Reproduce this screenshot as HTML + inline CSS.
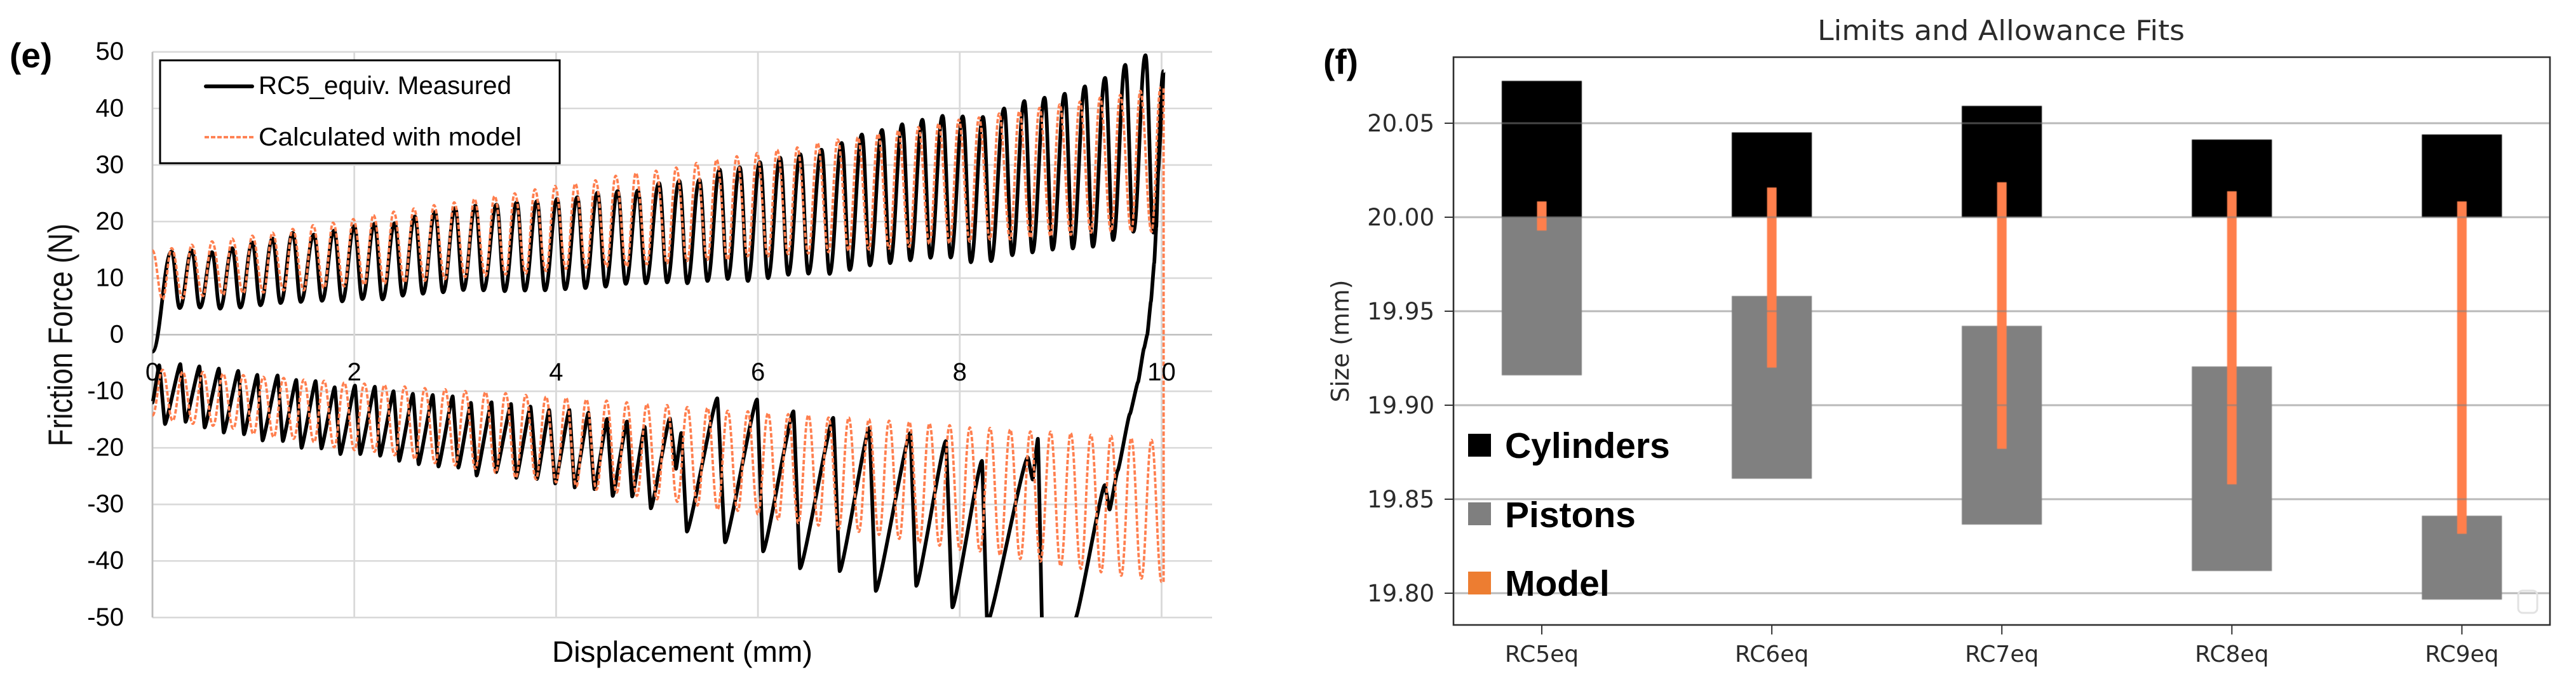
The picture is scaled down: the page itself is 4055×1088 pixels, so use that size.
<!DOCTYPE html>
<html lang="en">
<head>
<meta charset="utf-8">
<title>Friction force and limits and allowance fits</title>
<style>
html,body{margin:0;padding:0;background:#fff;}
body{width:4055px;height:1088px;overflow:hidden;}
svg{display:block;}
.sans{font-family:"Liberation Sans",sans-serif;}
.dj{font-family:"DejaVu Sans",sans-serif;fill:#2b2b2b;}
</style>
</head>
<body>
<svg id="figure" xmlns="http://www.w3.org/2000/svg" width="4055" height="1088" viewBox="0 0 4055 1088">
  <rect x="0" y="0" width="4055" height="1088" fill="#ffffff"/>
  <defs>
    <clipPath id="plot-e-clip"><rect x="238" y="78" width="1670" height="894"/></clipPath>
  </defs>

  <g id="panel-e">
    <text class="sans" x="15" y="106" font-size="55" font-weight="700" fill="#000">(e)</text>
    <g id="e-grid"></g>
    <g id="e-series" clip-path="url(#plot-e-clip)"></g>
    <g id="e-ticks"></g>
    <text class="sans" transform="translate(113.5,527.5) rotate(-90)" text-anchor="middle" font-size="54" fill="#111" textLength="351" lengthAdjust="spacingAndGlyphs">Friction Force (N)</text>
    <text class="sans" x="869" y="1042" font-size="46" fill="#000" textLength="410" lengthAdjust="spacingAndGlyphs">Displacement (mm)</text>
    <g>
      <rect x="252" y="95" width="629" height="162" fill="#fff" stroke="#000" stroke-width="3"/>
      <line x1="324" y1="136" x2="397" y2="136" stroke="#000" stroke-width="6" stroke-linecap="round"/>
      <text class="sans" x="407" y="148" font-size="40" fill="#000" textLength="398" lengthAdjust="spacingAndGlyphs">RC5_equiv. Measured</text>
      <line x1="322" y1="216" x2="399" y2="216" stroke="#ff7f4f" stroke-width="3.8" stroke-dasharray="7 3"/>
      <text class="sans" x="407" y="229" font-size="40" fill="#000" textLength="414" lengthAdjust="spacingAndGlyphs">Calculated with model</text>
    </g>
  </g>

  <g id="panel-f">
    <text class="sans" x="2083" y="116" font-size="55" font-weight="700" fill="#000">(f)</text>
    <text class="dj" x="2861" y="63" font-size="44" textLength="578" lengthAdjust="spacingAndGlyphs">Limits and Allowance Fits</text>
    <text class="dj" transform="translate(2123,537) rotate(-90)" text-anchor="middle" font-size="38" textLength="193" lengthAdjust="spacingAndGlyphs">Size (mm)</text>
    <rect x="2288" y="90" width="1726" height="894" fill="none" stroke="#2f2f2f" stroke-width="2.6"/>
    <g id="f-bars" style="filter:blur(.5px)"></g>
    <g id="f-grid"></g>
    <g id="f-ticks"></g>
    <rect x="3964" y="930" width="30" height="35" rx="7" fill="none" stroke="#e2e2e2" stroke-width="3"/>
    <g>
      <rect x="2311" y="683" width="36" height="36" fill="#000"/>
      <text class="sans" x="2369" y="721" font-size="57" font-weight="700" fill="#000">Cylinders</text>
      <rect x="2311" y="791" width="36" height="36" fill="#7f7f7f"/>
      <text class="sans" x="2369" y="830" font-size="57" font-weight="700" fill="#000">Pistons</text>
      <rect x="2311" y="900" width="36" height="36" fill="#ed7d31"/>
      <text class="sans" x="2369" y="938" font-size="57" font-weight="700" fill="#000">Model</text>
    </g>
  </g>
</svg>

<script>
// ---------- Panel (e) data: displacement (mm) and friction force (N) ----------
const forceTicks = [50, 40, 30, 20, 10, 0, -10, -20, -30, -40, -50];
const dispTicks = [0, 2, 4, 6, 8, 10];

const measuredUpperPeakX = [0.19,0.39,0.59,0.79,0.99,1.19,1.39,1.60,1.80,2.00,2.20,2.40,2.60,2.80,3.00,3.20,3.41,3.61,3.81,4.01,4.21,4.41,4.61,4.81,5.02,5.22,5.42,5.62,5.82,6.02,6.22,6.42,6.63,6.83,7.03,7.23,7.43,7.63,7.83,8.03,8.23,8.44,8.64,8.84,9.04,9.24,9.44,9.64,9.84];
const measuredUpperPeakF = [14.7,14.9,14.6,15.3,16.3,17,18,17.7,18.4,19.2,19.6,19.7,20.9,21.7,22.4,22.8,23,23.4,23.6,24,24.3,25.1,25.4,25.5,26.8,27.2,27.4,29.2,29.6,30.5,31.3,31.9,32.7,33.9,35.4,36.2,37.2,38,38.7,38.6,38.5,40,41.3,41.9,42.6,43.9,45.4,47.7,49.4];
const measuredUpperValleyX = [0.27,0.47,0.67,0.87,1.07,1.27,1.47,1.68,1.88,2.08,2.28,2.48,2.68,2.88,3.08,3.28,3.49,3.69,3.89,4.09,4.29,4.49,4.69,4.89,5.10,5.30,5.50,5.70,5.90,6.10,6.30,6.50,6.71,6.91,7.11,7.31,7.51,7.71,7.91,8.11,8.31,8.52,8.72,8.92,9.12,9.32,9.52,9.72,9.92];
const measuredUpperValleyF = [4.7,4.8,4.6,4.8,5.2,5.6,5.8,6.0,5.9,6.3,6.25,6.9,7.25,7.5,7.9,7.85,7.7,7.8,7.85,8.05,8.25,8.5,9.0,9.1,9.25,9.1,9.5,9.85,9.5,10,10.6,10.8,10.75,11.45,12.25,12.65,13.15,13.6,13.65,12.8,13,14.05,14.55,15.05,15.25,15.55,16.75,18.2,18.05];
const measuredUpperStart = [0, -3];
const measuredUpperEnd = [10.02, 46.6];

const measuredLowerX = [0,0.067,0.124,0.276,0.328,0.465,0.517,0.658,0.706,0.85,0.907,1.039,1.091,1.24,1.292,1.425,1.477,1.617,1.674,1.806,1.862,2.007,2.059,2.204,2.256,2.389,2.445,2.581,2.638,2.778,2.834,2.975,3.031,3.156,3.212,3.36,3.405,3.553,3.605,3.746,3.81,3.931,3.991,4.131,4.184,4.32,4.38,4.505,4.561,4.702,4.754,4.878,4.939,5.127,5.188,5.24,5.296,5.597,5.674,5.991,6.051,6.352,6.417,6.746,6.81,7.103,7.168,7.509,7.569,7.862,7.927,8.22,8.272,8.674,8.722,8.774,8.83,9.03,9.143,9.437,9.485,9.565,9.686,9.766,9.826,9.858,9.894,9.927,9.947,9.967,10.007,10.019];
const measuredLowerF = [-12,-5.4,-15.8,-5.2,-15.4,-5.6,-16.4,-6,-17.3,-6.4,-17.6,-7.1,-18.7,-7.2,-18.8,-8,-20,-8.2,-20.1,-9.3,-21.1,-9,-21.1,-9.2,-21.4,-10,-22.3,-10.45,-22.9,-10.65,-23.3,-10.9,-23.5,-12.05,-24.9,-11.95,-24.3,-12.25,-25.3,-12.7,-25.5,-13.3,-26.3,-13.3,-27,-13.8,-27.3,-14.9,-28.5,-15.35,-28.6,-16.3,-30.7,-14.8,-23.7,-17.4,-34.8,-11.25,-36.7,-11.45,-38.3,-13.55,-41.3,-14.7,-41.8,-16.5,-45.3,-17.4,-44.4,-18.8,-48.2,-22.3,-51,-21.7,-25.6,-18.4,-62,-62,-50.3,-26.6,-30.9,-24,-14,-8.4,-2.4,0,5.85,12.7,19,29,41,46.6];

const modelUpperX = [0,
0.10,0.19,0.30,0.39,0.50,0.59,0.70,0.79,0.90,0.99,1.10,1.19,1.30,1.39,1.50,1.59,1.70,1.79,1.90,1.99,
2.10,2.19,2.30,2.39,2.50,2.59,2.70,2.79,2.90,2.99,3.10,3.19,3.30,3.39,3.50,3.59,3.70,3.79,3.90,3.99,
4.10,4.19,4.30,4.39,4.50,4.59,4.70,4.79,4.90,4.99,5.10,5.19,5.30,5.39,5.50,5.59,5.70,5.79,5.90,5.99,
6.10,6.19,6.30,6.39,6.50,6.59,6.70,6.79,6.90,6.99,7.10,7.19,7.30,7.39,7.50,7.59,7.70,7.79,7.90,7.99,
8.10,8.19,8.30,8.39,8.50,8.59,8.70,8.79,8.90,8.99,9.10,9.19,9.30,9.39,9.50,9.59,9.70,9.79,9.90,9.99];
const modelUpperF = [14.9,
6.25,15.3,6.45,15.9,6.85,16.5,7.05,17,7.35,17.5,7.45,18.05,7.85,18.7,7.85,19.35,8.25,19.8,8.55,20.45,
8.85,21.15,9.05,21.75,9.25,22.3,9.55,22.9,9.85,23.4,10.2,24,10.45,24.5,10.65,25,10.85,25.7,11.25,26.3,
11.65,26.7,11.85,27.3,12.05,28.1,12.05,28.6,12.45,29,12.65,29.55,13.05,30.35,13.25,30.95,13.25,31.55,13.85,32.1,
13.85,32.7,14.25,33.1,14.35,33.9,14.6,34.5,14.85,34.9,15.05,35.5,15.25,36.1,15.55,36.7,16.05,37.3,16.15,38,
16.45,38.4,16.85,39.1,16.85,39.5,17.15,40.1,17.4,40.7,17.65,41.2,18.05,41.9,18.25,42.4,18.25,43.1,18.2,43.7];

const modelLowerX = [0,
0.1,0.2,0.3,0.4,0.5,0.6,0.7,0.8,0.9,1.0,1.1,1.2,1.3,1.4,1.5,1.6,1.7,1.8,1.9,2.0,
2.1,2.2,2.3,2.4,2.5,2.6,2.7,2.8,2.9,3.0,3.1,3.2,3.3,3.4,3.5,3.6,3.7,3.8,3.9,4.0,
4.1,4.2,4.3,4.4,4.5,4.6,4.7,4.8,4.9,5.0,5.1,5.2,5.3,5.4,5.5,5.6,5.7,5.8,5.9,6.0,
6.1,6.2,6.3,6.4,6.5,6.6,6.7,6.8,6.9,7.0,7.1,7.2,7.3,7.4,7.5,7.6,7.7,7.8,7.9,8.0,
8.1,8.2,8.3,8.4,8.5,8.6,8.7,8.8,8.9,9.0,9.1,9.2,9.3,9.4,9.5,9.6,9.7,9.8,9.9,10.0];
const modelLowerF = [-14.3,
-6.2,-15.2,-6.55,-15.75,-6.6,-16.1,-6.9,-16.6,-7.15,-17.55,-7.45,-18.1,-7.65,-18.4,-7.95,-19,-8.15,-19.9,-8.45,-20.4,
-8.65,-20.7,-8.9,-21.3,-9.15,-22,-9.45,-22.7,-9.65,-23.1,-9.95,-23.7,-10.15,-24.4,-10.35,-25.3,-10.65,-25.55,-10.95,-26.1,
-11.15,-26.8,-11.45,-27.4,-11.65,-27.9,-11.95,-28.5,-12.25,-29.1,-12.45,-29.55,-12.8,-30.2,-12.95,-30.9,-13.45,-31.15,-13.55,-31.75,
-13.85,-32.65,-14.05,-33.3,-14.2,-33.75,-14.65,-34.4,-14.65,-34.85,-14.95,-35.4,-15.2,-36.1,-15.4,-36.8,-15.7,-37.3,-16,-38,
-16.4,-38.3,-16.5,-39,-16.75,-39.65,-17.1,-40.1,-17.15,-40.9,-17.4,-41.4,-17.7,-42,-17.9,-42.6,-18.3,-43.1,-18.6,-43.7];
const modelEndX = [10.0, 10.02];
const modelEndF = [-43.7, 43.7];

// ---------- Panel (f) data: sizes in mm ----------
const fitCategories = ["RC5eq", "RC6eq", "RC7eq", "RC8eq", "RC9eq"];
const sizeTicks = ["20.05", "20.00", "19.95", "19.90", "19.85", "19.80"];
const cylinderBottom = [20.0, 20.0, 20.0, 20.0, 20.0];
const cylinderTop = [20.0725, 20.0451, 20.0592, 20.0413, 20.044];
const pistonTop = [20.0, 19.9581, 19.9422, 19.9206, 19.8412];
const pistonBottom = [19.9159, 19.8609, 19.8365, 19.8118, 19.7966];
const modelTop = [20.0084, 20.0158, 20.0186, 20.0138, 20.0084];
const modelBottom = [19.9929, 19.92, 19.8768, 19.8579, 19.8316];

// ---------- Axis functions ----------
const SVGNS = "http://www.w3.org/2000/svg";
const xE = d => 240 + d * 158.85;
const yE = f => 527 - f * 8.906;
const yF = s => 342 - (s - 20) * 2960;
const xF = i => 2427 + i * 362.1;

function make(tag, parent, props) {
  const el = document.createElementNS(SVGNS, tag);
  for (const k in props) el.setAttribute(k, props[k]);
  parent.appendChild(el);
  return el;
}

function curve(xs, fs, handle) {
  let d = "M" + xE(xs[0]).toFixed(2) + " " + yE(fs[0]).toFixed(2);
  for (let i = 1; i < xs.length; i++) {
    const x0 = xE(xs[i - 1]), y0 = yE(fs[i - 1]), x1 = xE(xs[i]), y1 = yE(fs[i]);
    const dx = (x1 - x0) * handle;
    d += "C" + (x0 + dx).toFixed(2) + " " + y0.toFixed(2) + " " + (x1 - dx).toFixed(2) + " " + y1.toFixed(2) + " " + x1.toFixed(2) + " " + y1.toFixed(2);
  }
  return d;
}

function weave(start, px, pf, vx, vf, end) {
  const xs = [start[0]], fs = [start[1]];
  for (let i = 0; i < px.length; i++) {
    xs.push(px[i]); fs.push(pf[i]);
    xs.push(vx[i]); fs.push(vf[i]);
  }
  xs.push(end[0]); fs.push(end[1]);
  return [xs, fs];
}

// ---------- Draw panel (e) ----------
const eGrid = document.getElementById("e-grid");
const eSeries = document.getElementById("e-series");
const eTicks = document.getElementById("e-ticks");

forceTicks.forEach(v => {
  const gl = make("line", eGrid, {x1: 240, x2: 1908, y1: yE(v), y2: yE(v), stroke: v === 0 ? "#bdbdbd" : "#d9d9d9", "stroke-width": 2.6});
  
  
  const t = make("text", eTicks, {x: 195, y: yE(v) + 12.5, "text-anchor": "end", "font-size": 40, fill: "#000", class: "sans"});
  
  
  t.textContent = v;
});
dispTicks.forEach(v => {
  const gl = make("line", eGrid, {x1: xE(v), x2: xE(v), y1: yE(50), y2: yE(-50), stroke: v === 0 ? "#bdbdbd" : "#d9d9d9", "stroke-width": 2.8});
  
  
});

const [muX, muF] = weave(measuredUpperStart, measuredUpperPeakX, measuredUpperPeakF, measuredUpperValleyX, measuredUpperValleyF, measuredUpperEnd);
const lineMU = make("path", eSeries, {d: curve(muX, muF, 0.4), fill: "none", stroke: "#000", "stroke-width": 5.8, "stroke-linejoin": "round"});


const lineML = make("path", eSeries, {d: curve(measuredLowerX, measuredLowerF, 0.12), fill: "none", stroke: "#000", "stroke-width": 5.8, "stroke-linejoin": "round"});


const lineCU = make("path", eSeries, {d: curve(modelUpperX, modelUpperF, 0.4), fill: "none", stroke: "#ff7f4f", "stroke-width": 3.8, "stroke-dasharray": "7 3"});


const lineCL = make("path", eSeries, {d: curve(modelLowerX, modelLowerF, 0.4), fill: "none", stroke: "#ff7f4f", "stroke-width": 3.8, "stroke-dasharray": "7 3"});


const lineCE = make("line", eSeries, {x1: xE(modelEndX[1]), x2: xE(modelEndX[1]), y1: yE(modelEndF[0]), y2: yE(modelEndF[1]), stroke: "#ff7f4f", "stroke-width": 3.8, "stroke-dasharray": "7 3"});



dispTicks.forEach(v => {
  const t = make("text", eTicks, {x: xE(v), y: 599, "text-anchor": "middle", "font-size": 40, fill: "#000", class: "sans"});
  
  
  t.textContent = v;
});

// ---------- Draw panel (f) ----------
const fBars = document.getElementById("f-bars");
const fGrid = document.getElementById("f-grid");
const fTicks = document.getElementById("f-ticks");
const BAR_W = 126, MODEL_W = 15;

fitCategories.forEach((name, i) => {
  const cx = xF(i);
  const cyl = make("rect", fBars, {x: cx - BAR_W / 2, width: BAR_W, y: yF(cylinderTop[i]), height: yF(cylinderBottom[i]) - yF(cylinderTop[i]), fill: "#000"});
  
  
  const pis = make("rect", fBars, {x: cx - BAR_W / 2, width: BAR_W, y: yF(pistonTop[i]), height: yF(pistonBottom[i]) - yF(pistonTop[i]), fill: "#808080"});
  
  
  const mod = make("rect", fBars, {x: cx - MODEL_W / 2, width: MODEL_W, y: yF(modelTop[i]), height: yF(modelBottom[i]) - yF(modelTop[i]), fill: "#ff7f4c"});
  
  
  const tk = make("line", fTicks, {x1: cx, x2: cx, y1: 984, y2: 999, stroke: "#333", "stroke-width": 2});
  
  
  const t = make("text", fTicks, {x: cx, y: 1042, "text-anchor": "middle", "font-size": 36, class: "dj"});
  
  
  t.textContent = name;
});

sizeTicks.forEach(label => {
  const y = yF(parseFloat(label));
  const gl = make("line", fGrid, {x1: 2289, x2: 4013, y1: y, y2: y, stroke: "#808080", "stroke-opacity": 0.55, "stroke-width": 3});
  
  
  const tk = make("line", fTicks, {x1: 2274, x2: 2288, y1: y, y2: y, stroke: "#333", "stroke-width": 2});
  
  
  const t = make("text", fTicks, {x: 2258, y: y + 13, "text-anchor": "end", "font-size": 37, class: "dj"});
  
  
  t.textContent = label;
});
</script>
</body>
</html>
